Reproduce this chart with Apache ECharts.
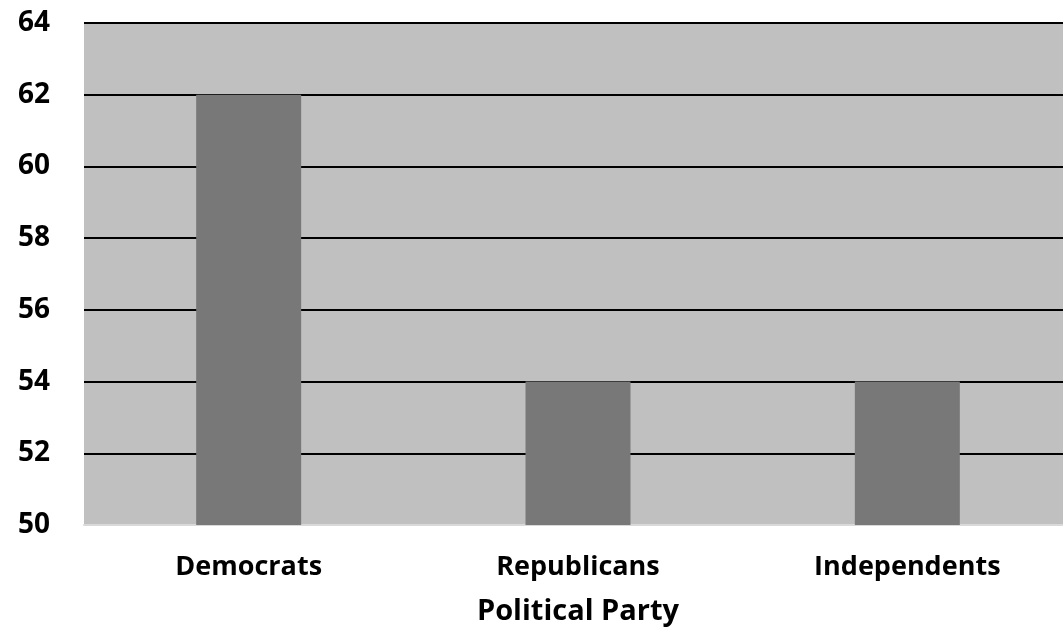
<!DOCTYPE html>
<html>
<head>
<meta charset="utf-8">
<script src="https://cdn.jsdelivr.net/npm/echarts@6/dist/echarts.min.js"></script>
<style>
  html, body { margin: 0; padding: 0; background: #fff; overflow: hidden; }
  /* plot area runs a little past the right edge of the window, as in the original */
  #chart { width: 1072px; height: 633px; }
</style>
</head>
<body>
<div id="chart"></div>
<script>
const parties = ['Democrats', 'Republicans', 'Independents'];
const values = [62, 54, 54];

const FONT = '"Open Sans", "DejaVu Sans", sans-serif';

const chart = echarts.init(document.getElementById('chart'), null, { renderer: 'canvas' });

chart.setOption({
  animation: false,
  grid: {
    show: true,
    backgroundColor: '#c0c0c0',
    borderWidth: 0,
    left: 84,
    right: 0,
    top: 23,
    bottom: 108
  },
  xAxis: {
    type: 'category',
    data: parties,
    name: 'Political Party',
    nameLocation: 'middle',
    nameGap: 72,
    nameTextStyle: { fontFamily: FONT, fontWeight: 'bold', fontSize: 29, color: '#000' },
    axisLine: { show: true, lineStyle: { color: '#d9d9d9', width: 2 } },
    axisTick: { show: false },
    axisLabel: { fontFamily: FONT, fontWeight: 'bold', fontSize: 27, color: '#000', margin: 29 }
  },
  yAxis: {
    type: 'value',
    min: 50,
    max: 64,
    interval: 2,
    axisLine: { show: false },
    axisTick: { show: false },
    axisLabel: { fontFamily: FONT, fontWeight: 'bold', fontSize: 28, color: '#000', margin: 34 },
    splitLine: { show: true, lineStyle: { color: '#000', width: 2 } }
  },
  series: [{
    type: 'bar',
    data: values,
    barWidth: 105,
    itemStyle: { color: '#787878' }
  }]
});
</script>
</body>
</html>
